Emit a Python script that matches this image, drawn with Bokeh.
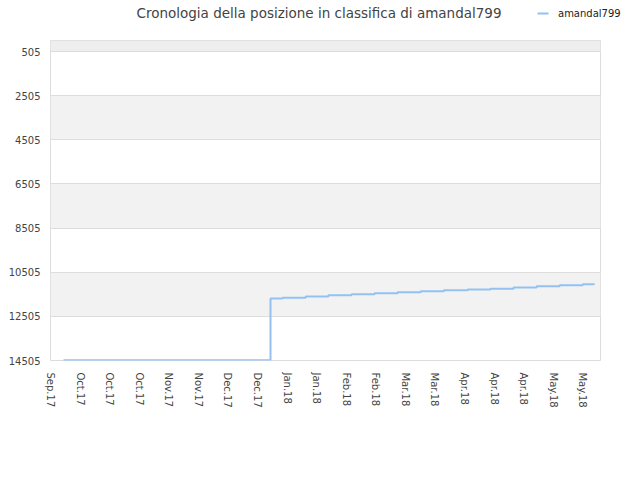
from bokeh.plotting import figure
from bokeh.models import Range1d, FixedTicker, BoxAnnotation
from bokeh.layouts import column
from bokeh.core.properties import value
from bokeh.embed import file_html
from bokeh.resources import INLINE

title_text = "Cronologia della posizione in classifica di amandal799"
series_name = "amandal799"

# x positions in "tick units" (tick i = i-th label), ranks
x_pos = [0.44, 7.44, 7.85, 8.63, 9.40, 10.18, 10.96, 11.74, 12.52, 13.30,
         14.11, 14.88, 15.66, 16.44, 17.22, 18.00, 18.40]
rank = [14490, 11700, 11660, 11600, 11550, 11500, 11460, 11410, 11370, 11320,
        11290, 11250, 11200, 11140, 11100, 11050, 11050]

x_labels = ["Sep.17", "Oct.17", "Oct.17", "Oct.17", "Nov.17", "Nov.17",
            "Dec.17", "Dec.17", "Jan.18", "Jan.18", "Feb.18", "Feb.18",
            "Mar.18", "Mar.18", "Apr.18", "Apr.18", "Apr.18", "May.18", "May.18"]
y_ticks = [505, 2505, 4505, 6505, 8505, 10505, 12505, 14505]
y_min = 5

LINE_COLOR = "#92c1f2"
W = 624
HDR_H = 36

# ---------- header (title + legend), coordinates in pixels of the header ----------
hdr = figure(width=W, height=HDR_H, x_range=Range1d(0, W), y_range=Range1d(HDR_H, 0),
             min_border=0, toolbar_location=None, output_backend="svg", title=None,
             x_axis_location=None, y_axis_location=None)
hdr.frame_align = False
hdr.grid.visible = False
hdr.outline_line_color = None
hdr.background_fill_color = "white"
hdr.border_fill_color = "white"
hdr.text(x=[318.5], y=[12], text=[title_text], text_align="center", text_baseline="middle",
         text_font=value("DejaVu Sans"), text_font_size="13.5px", text_color="#444444")
# legend: swatch + label
hdr.segment(x0=[537], x1=[548], y0=[13], y1=[13], line_color=LINE_COLOR, line_width=2)
hdr.text(x=[557.5], y=[13], text=[series_name], text_align="left", text_baseline="middle",
         text_font=value("DejaVu Sans"), text_font_size="10px", text_color="#222222")

# ---------- main chart ----------
p = figure(width=W, height=464 - HDR_H, title=None,
           min_border_left=50, min_border_right=24, min_border_top=40 - HDR_H, min_border_bottom=104,
           output_backend="svg", toolbar_location=None,
           x_range=Range1d(0, 18.6), y_range=Range1d(y_ticks[-1], y_min))
p.frame_align = False

p.background_fill_color = "white"
p.border_fill_color = "white"
p.outline_line_color = "#dcdcdc"

# bands
p.add_layout(BoxAnnotation(bottom=y_min, top=y_ticks[0], fill_color="#eeeeee", fill_alpha=1,
                           line_color=None, level="image"))
for i in range(1, len(y_ticks) - 1, 2):
    p.add_layout(BoxAnnotation(bottom=y_ticks[i], top=y_ticks[i + 1], fill_color="#f2f2f2",
                               fill_alpha=1, line_color=None, level="image"))

# grids
p.xgrid.visible = False
p.ygrid.ticker = FixedTicker(ticks=y_ticks)
p.ygrid.grid_line_color = "#dddddd"
p.ygrid.grid_line_width = 1

# axes
yax = p.yaxis[0]
yax.ticker = FixedTicker(ticks=y_ticks)
yax.axis_line_color = None
yax.major_tick_line_color = None
yax.minor_tick_line_color = None
yax.major_tick_in = 0
yax.major_tick_out = 0
yax.major_label_standoff = 10
yax.major_label_text_font = "DejaVu Sans"
yax.major_label_text_font_size = "10px"
yax.major_label_text_color = "#444444"

xax = p.xaxis[0]
xax.ticker = FixedTicker(ticks=list(range(len(x_labels))))
xax.major_label_overrides = {i: lab for i, lab in enumerate(x_labels)}
xax.major_label_orientation = "vertical"
xax.axis_line_color = None
xax.major_tick_line_color = None
xax.minor_tick_line_color = None
xax.major_tick_in = 0
xax.major_tick_out = 0
xax.major_label_standoff = 12
xax.major_label_text_font = "DejaVu Sans"
xax.major_label_text_font_size = "10px"
xax.major_label_text_color = "#444444"

p.step(x_pos, rank, mode="after", line_color=LINE_COLOR, line_width=2)

layout = column(hdr, p, spacing=0)
open("out.html", "w").write(file_html(layout, INLINE))
